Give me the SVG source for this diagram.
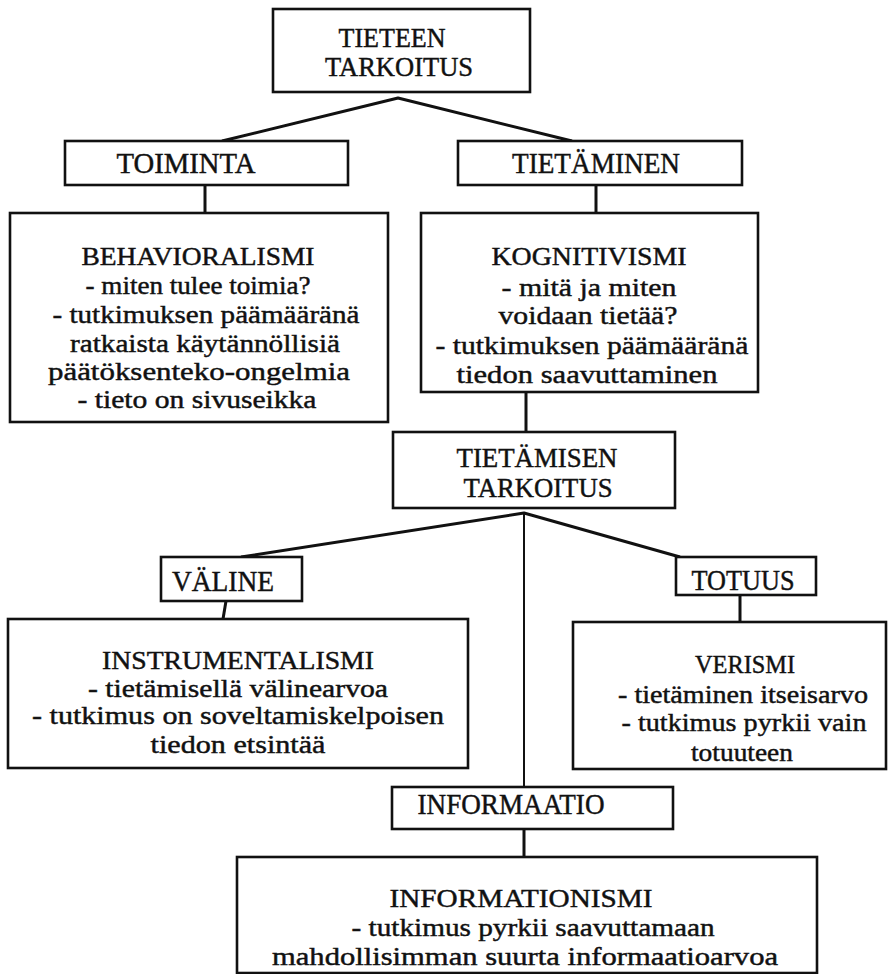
<svg xmlns="http://www.w3.org/2000/svg" width="888" height="974" viewBox="0 0 888 974">
  <style>
    .box { fill: #fff; stroke: #111; stroke-width: 2.6; }
    .wire { fill: none; stroke: #111; stroke-width: 3; stroke-linejoin: round; }
    .thin { stroke-width: 2; }
    text { font-family: "Liberation Serif", "Times New Roman", serif; fill: #111; stroke: #111; stroke-width: 0.45; text-anchor: middle; }
    .head { font-size: 28px; }
    .label { font-size: 30px; }
    .pair { font-size: 28px; }
    .body { font-size: 26px; }
  </style>

  <!-- connectors -->
  <g id="connectors">
    <polyline class="wire" points="222,141 398,98 572,141"/>
    <line class="wire" x1="205" y1="185" x2="205" y2="213"/>
    <line class="wire" x1="596" y1="185" x2="596" y2="213"/>
    <line class="wire" x1="526" y1="392" x2="526" y2="432"/>
    <polyline class="wire" points="241,557 524,513 680,557"/>
    <line class="wire thin" x1="524" y1="513" x2="524" y2="787"/>
    <line class="wire" x1="226" y1="601" x2="223" y2="619"/>
    <line class="wire" x1="740" y1="595" x2="740" y2="622"/>
    <line class="wire" x1="524" y1="829" x2="524" y2="857"/>
  </g>

  <g id="tieteen-tarkoitus">
    <rect class="box" x="273" y="9" width="257" height="83"/>
    <text class="head" x="392" y="47" textLength="107" lengthAdjust="spacingAndGlyphs">TIETEEN</text>
    <text class="head" x="399" y="76" textLength="148" lengthAdjust="spacingAndGlyphs">TARKOITUS</text>
  </g>

  <g id="toiminta">
    <rect class="box" x="65" y="141" width="283" height="44"/>
    <text class="label" x="186" y="173" textLength="139" lengthAdjust="spacingAndGlyphs">TOIMINTA</text>
  </g>

  <g id="tietaminen">
    <rect class="box" x="458" y="141" width="284" height="44"/>
    <text class="label" x="596" y="173" textLength="168" lengthAdjust="spacingAndGlyphs">TIETÄMINEN</text>
  </g>

  <g id="behavioralismi">
    <rect class="box" x="10" y="213" width="378" height="209"/>
    <text class="body" x="198" y="265" textLength="233" lengthAdjust="spacingAndGlyphs">BEHAVIORALISMI</text>
    <text class="body" x="198" y="294" textLength="225" lengthAdjust="spacingAndGlyphs">- miten tulee toimia?</text>
    <text class="body" x="206" y="323" textLength="307" lengthAdjust="spacingAndGlyphs">- tutkimuksen päämääränä</text>
    <text class="body" x="205" y="352" textLength="270" lengthAdjust="spacingAndGlyphs">ratkaista käytännöllisiä</text>
    <text class="body" x="199" y="380" textLength="302" lengthAdjust="spacingAndGlyphs">päätöksenteko-ongelmia</text>
    <text class="body" x="197" y="408" textLength="239" lengthAdjust="spacingAndGlyphs">- tieto on sivuseikka</text>
  </g>

  <g id="kognitivismi">
    <rect class="box" x="421" y="213" width="337" height="179"/>
    <text class="body" x="589" y="265" textLength="195" lengthAdjust="spacingAndGlyphs">KOGNITIVISMI</text>
    <text class="body" x="589" y="296" textLength="175" lengthAdjust="spacingAndGlyphs">- mitä ja miten</text>
    <text class="body" x="588" y="324" textLength="179" lengthAdjust="spacingAndGlyphs">voidaan tietää?</text>
    <text class="body" x="592" y="354" textLength="313" lengthAdjust="spacingAndGlyphs">- tutkimuksen päämääränä</text>
    <text class="body" x="587" y="383" textLength="261" lengthAdjust="spacingAndGlyphs">tiedon saavuttaminen</text>
  </g>

  <g id="tietamisen-tarkoitus">
    <rect class="box" x="393" y="432" width="282" height="76"/>
    <text class="pair" x="537" y="467" textLength="161" lengthAdjust="spacingAndGlyphs">TIETÄMISEN</text>
    <text class="pair" x="538" y="497" textLength="149" lengthAdjust="spacingAndGlyphs">TARKOITUS</text>
  </g>

  <g id="valine">
    <rect class="box" x="161" y="557" width="141" height="44"/>
    <text class="label" x="223" y="591" textLength="102" lengthAdjust="spacingAndGlyphs">VÄLINE</text>
  </g>

  <g id="totuus">
    <rect class="box" x="676" y="557" width="140" height="38"/>
    <text class="label" x="743" y="590" textLength="103" lengthAdjust="spacingAndGlyphs">TOTUUS</text>
  </g>

  <g id="instrumentalismi">
    <rect class="box" x="8" y="619" width="460" height="149"/>
    <text class="body" x="238" y="669" textLength="272" lengthAdjust="spacingAndGlyphs">INSTRUMENTALISMI</text>
    <text class="body" x="238" y="697" textLength="300" lengthAdjust="spacingAndGlyphs">- tietämisellä välinearvoa</text>
    <text class="body" x="238" y="724" textLength="412" lengthAdjust="spacingAndGlyphs">- tutkimus on soveltamiskelpoisen</text>
    <text class="body" x="238" y="753" textLength="175" lengthAdjust="spacingAndGlyphs">tiedon etsintää</text>
  </g>

  <g id="verismi">
    <rect class="box" x="573" y="622" width="313" height="147"/>
    <text class="body" x="745" y="673" textLength="100" lengthAdjust="spacingAndGlyphs">VERISMI</text>
    <text class="body" x="743" y="703" textLength="250" lengthAdjust="spacingAndGlyphs">- tietäminen itseisarvo</text>
    <text class="body" x="744" y="731" textLength="245" lengthAdjust="spacingAndGlyphs">- tutkimus pyrkii vain</text>
    <text class="body" x="742" y="761" textLength="102" lengthAdjust="spacingAndGlyphs">totuuteen</text>
  </g>

  <g id="informaatio">
    <rect class="box" x="392" y="787" width="281" height="42"/>
    <text class="label" x="511" y="814" textLength="187" lengthAdjust="spacingAndGlyphs">INFORMAATIO</text>
  </g>

  <g id="informationismi">
    <rect class="box" x="237" y="857" width="580" height="116"/>
    <text class="body" x="521" y="907" textLength="263" lengthAdjust="spacingAndGlyphs">INFORMATIONISMI</text>
    <text class="body" x="533" y="936" textLength="363" lengthAdjust="spacingAndGlyphs">- tutkimus pyrkii saavuttamaan</text>
    <text class="body" x="525" y="965" textLength="506" lengthAdjust="spacingAndGlyphs">mahdollisimman suurta informaatioarvoa</text>
  </g>
</svg>
